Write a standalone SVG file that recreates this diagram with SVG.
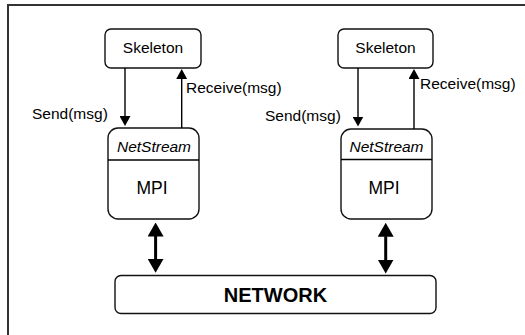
<svg xmlns="http://www.w3.org/2000/svg" width="525" height="335" viewBox="0 0 525 335">
<style>
.box{fill:#fff;stroke:#111;stroke-width:1.4}
.t{font-family:"Liberation Sans",Arial,sans-serif;font-size:15.5px;fill:#000}
.it{font-style:italic}
.mpi{font-size:17.5px}
.net{font-size:20px;font-weight:bold}
.thin{stroke:#000;stroke-width:1.4;fill:none}
.thick{stroke:#000;stroke-width:3;fill:none}
</style>
<defs>
<marker id="ah" markerUnits="userSpaceOnUse" viewBox="0 0 10 11" refX="1" refY="5.5" markerWidth="10" markerHeight="11" orient="auto">
<path d="M0,0 L10,5.5 L0,11 z" fill="#000"/>
</marker>
<marker id="ahb" markerUnits="userSpaceOnUse" viewBox="0 0 14 16" refX="0.5" refY="8" markerWidth="14" markerHeight="16" orient="auto-start-reverse">
<path d="M0,0 L14,8 L0,16 z" fill="#000"/>
</marker>
</defs>
<rect x="0" y="0" width="525" height="335" fill="#fff"/>
<rect id="frame" x="8" y="5" width="530" height="340" fill="none" stroke="#333" stroke-width="2"/>

<g id="skeleton-left">
<rect class="box" x="105" y="29" width="96" height="39" rx="6"/>
<text class="t" x="153" y="52.5" text-anchor="middle">Skeleton</text>
</g>
<g id="skeleton-right">
<rect class="box" x="338" y="29" width="95" height="39" rx="6"/>
<text class="t" x="385.5" y="52.5" text-anchor="middle">Skeleton</text>
</g>
<g id="netstream-left">
<rect class="box" x="108" y="128" width="91" height="91" rx="10"/>
<line class="thin" x1="108" y1="160" x2="199" y2="160"/>
<text class="t it" x="154" y="152" text-anchor="middle">NetStream</text>
<text class="t mpi" x="152" y="194" text-anchor="middle">MPI</text>
</g>
<g id="netstream-right">
<rect class="box" x="341" y="129" width="91" height="90" rx="10"/>
<line class="thin" x1="341" y1="159.5" x2="432" y2="159.5"/>
<text class="t it" x="386.5" y="152" text-anchor="middle">NetStream</text>
<text class="t mpi" x="384" y="194" text-anchor="middle">MPI</text>
</g>
<g id="network">
<rect class="box" x="115" y="275.5" width="321" height="38" rx="6"/>
<text class="t net" x="275.5" y="302" text-anchor="middle">NETWORK</text>
</g>

<g id="connectors">
<line class="thin" x1="125" y1="68" x2="125" y2="117" marker-end="url(#ah)"/>
<line class="thin" x1="181.7" y1="128" x2="181.7" y2="78" marker-end="url(#ah)"/>
<line class="thin" x1="358" y1="68" x2="358" y2="117.5" marker-end="url(#ah)"/>
<line class="thin" x1="414" y1="129" x2="414" y2="78" marker-end="url(#ah)"/>
<line class="thick" x1="155.6" y1="236" x2="155.6" y2="259.3" marker-start="url(#ahb)" marker-end="url(#ahb)"/>
<line class="thick" x1="385.7" y1="236.3" x2="385.7" y2="260" marker-start="url(#ahb)" marker-end="url(#ahb)"/>
<text class="t" x="32" y="119">Send(msg)</text>
<text class="t" x="186" y="93">Receive(msg)</text>
<text class="t" x="265" y="120.5">Send(msg)</text>
<text class="t" x="420" y="89">Receive(msg)</text>
</g>
</svg>
